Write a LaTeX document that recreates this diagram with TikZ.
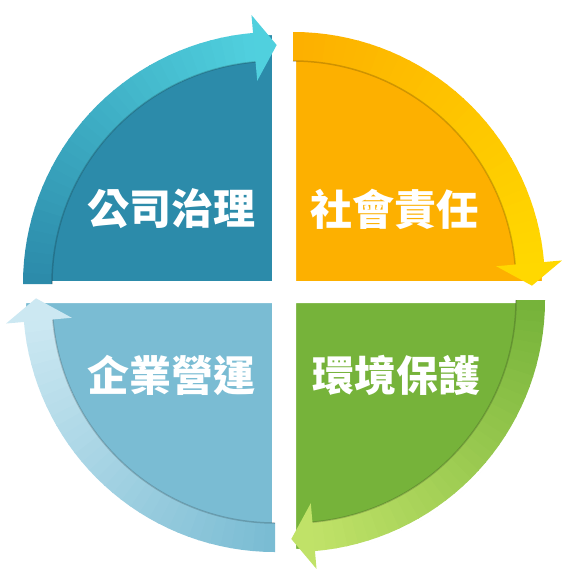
\documentclass[tikz,border=0pt]{standalone}
\usepackage{fontspec}
\newfontfamily\cjk{Noto Sans CJK TC}
\usetikzlibrary{shadows}
\definecolor{govbody}{RGB}{44,139,170}
\definecolor{govhead}{RGB}{80,208,222}
\definecolor{csrbody}{RGB}{253,176,0}
\definecolor{csrhead}{RGB}{255,216,0}
\definecolor{envbody}{RGB}{118,179,58}
\definecolor{envhead}{RGB}{192,226,104}
\definecolor{bizbody}{RGB}{122,188,211}
\definecolor{bizhead}{RGB}{204,232,242}

\begin{document}
\begin{tikzpicture}[
    x = 1pt,
    y = 1pt,
    quarter/.style = {draw=white, line width=6pt, line join=miter,
              drop shadow={shadow xshift=1.5pt, shadow yshift=-2pt, opacity=0.3}},
    rim/.style = {black, opacity=0.18, line width=1.5pt},
    caption/.style = {text=white, inner sep=0pt,
              font=\cjk\bfseries\fontsize{42}{42}\selectfont},
    ]

\useasboundingbox (0,0) rectangle (571,-581);

\foreach \cx/\cy/\s/\body/\head in {275/-284/180/govbody/govhead,
    293/-284/90/csrbody/csrhead, 293/-300/0/envbody/envhead,
    275/-300/-90/bizbody/bizhead}{
  \begin{scope}[shift={(\cx,\cy)}]
    \pgfmathsetmacro\e{\s-90}
    \draw[quarter, fill=\body] (0,0) -- (\s:252pt)
        arc[start angle=\s, end angle=\e, radius=252pt] -- cycle;
    % band along the rim, shaded piece by piece
    \foreach \i in {0,...,33}{
      \pgfmathsetmacro\a{\s-\i*2.5}
      \pgfmathsetmacro\b{\a-2.8}
      \pgfmathtruncatemacro\p{\i*3}
      \fill[\head!\p!\body] (\a:223pt)
          arc[start angle=\a, end angle=\b, radius=223pt] -- (\b:252pt)
          arc[start angle=\b, end angle=\a, radius=252pt] -- cycle;
    }
    \pgfmathsetmacro\hb{\s-85}
    \pgfmathsetmacro\tip{\s-90.4}
    \draw[rim] (\s:223pt) arc[start angle=\s, end angle=\hb, radius=223pt];
    \fill[\head] (\hb:204pt) -- (\tip:239pt) -- (\hb:270pt) -- cycle;
  \end{scope}
}

\node[caption] (txt_gov) at (171,-209) {公司治理};
\node[caption] (txt_csr) at (394,-209) {社會責任};
\node[caption] (txt_env) at (396,-375) {環境保護};
\node[caption] (txt_biz) at (171,-375) {企業營運};

\end{tikzpicture}
\end{document}
